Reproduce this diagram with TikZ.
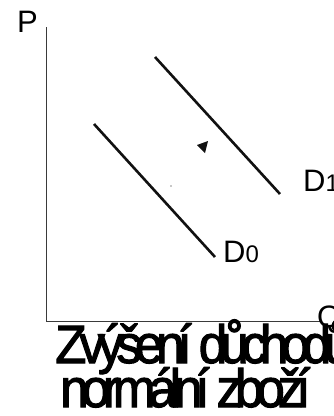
\documentclass[tikz,border=0pt]{standalone}
\usepackage{fontspec}
\setmainfont{Liberation Sans}
\newfontfamily\squeezed[LetterSpace=-14, FakeBold=2]{Liberation Sans}
\usepackage{xcolor}
\usetikzlibrary{positioning}
\definecolor{axisgray}{HTML}{3A3A3A}
\definecolor{inkblack}{HTML}{111111}

\begin{document}
\begin{tikzpicture}[x=1pt, y=-1pt]
    \useasboundingbox (0,0) rectangle (333,416);
    % axes
    \draw[axisgray, line width=0.9pt] (46,27) -- (46,321) -- (320,321);
    \node[anchor=base west, inner sep=0pt, font=\fontsize{31}{31}\selectfont] (plabel) at (17,32) {P};
    \node[anchor=base west, inner sep=0pt, font=\fontsize{31}{31}\selectfont] (qlabel) at (317,327) {Q};
    % demand curves
    \coordinate (d0top) at (94,124);
    \coordinate (d0end) at (215,257);
    \coordinate (d1top) at (155,57);
    \coordinate (d1end) at (280,194);
    \draw[inkblack, line width=2.6pt] (d0top) -- (d0end);
    \draw[inkblack, line width=2.6pt] (d1top) -- (d1end);
    \node[anchor=base west, inner sep=0pt, font=\fontsize{31}{31}\selectfont] (d0label) at (223,262)
      {D\fontsize{24}{24}\selectfont 0};
    \node[anchor=base west, inner sep=0pt, font=\fontsize{31}{31}\selectfont] (d1label) at (303,191)
      {D\fontsize{24}{24}\selectfont 1};
    % shift marker
    \fill[inkblack] (197,145) -- (208,141) -- (205,153) -- cycle;
    \fill[inkblack] (171,186) circle (0.7);
    % caption
    \node[anchor=base west, inner sep=0pt] (caption1) at (55,363)
      {\scalebox{0.95}[1]{\squeezed\fontsize{54}{54}\selectfont Zvýšení důchodů}};
    \node[anchor=base west, inner sep=0pt] (caption2) at (60,407)
      {\scalebox{0.95}[1]{\squeezed\fontsize{54}{54}\selectfont normální zboží}};
  \end{tikzpicture}
\end{document}
